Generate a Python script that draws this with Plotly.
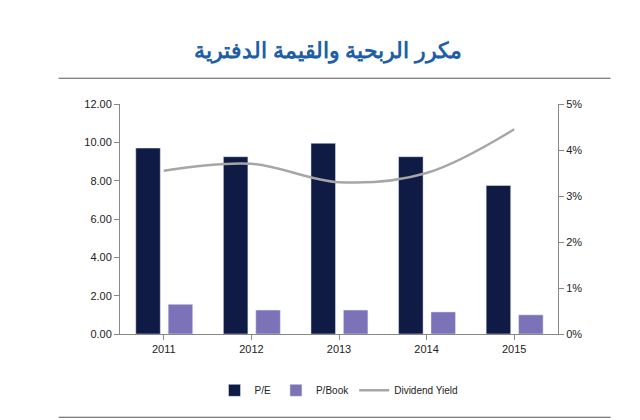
import plotly.graph_objects as go

years = ["2011", "2012", "2013", "2014", "2015"]
pe = [9.7, 9.25, 9.95, 9.25, 7.75]
pbook = [1.55, 1.25, 1.25, 1.15, 1.0]
dy = [3.55, 3.7, 3.3, 3.5, 4.45]
left_ticks = [0, 2, 4, 6, 8, 10, 12]
right_ticks = [0, 1, 2, 3, 4, 5]
right_labels = ["0%", "1%", "2%", "3%", "4%", "5%"]

fig = go.Figure()
fig.add_bar(x=years, y=pe, name="P/E", marker_color="#0f1a45", width=0.28, offset=-0.32)
fig.add_bar(x=years, y=pbook, name="P/Book", marker_color="#7b72b8", width=0.28, offset=0.05)
fig.add_scatter(x=years, y=dy, name="Dividend Yield", yaxis="y2", mode="lines",
                line=dict(color="#a6a6a6", width=2.5, shape="spline"))
fig.update_layout(
    width=640, height=420, plot_bgcolor="white", paper_bgcolor="white",
    margin=dict(l=112, r=90, t=96, b=94),
    font=dict(family="Liberation Sans", size=11, color="#222"),
    title=dict(text="<b>مكرر الربحية والقيمة الدفترية</b>", x=0.5, y=0.9, xanchor="center", yanchor="middle",
               font=dict(family="Noto Sans", size=22, color="#1f5fa8")),
    xaxis=dict(showline=True, linecolor="#888", ticks="outside", ticklen=5, tickcolor="#888"),
    yaxis=dict(range=[0, 12], tickvals=left_ticks, tickformat=".2f", showgrid=False,
               showline=True, linecolor="#888", ticks="outside", tickcolor="#888"),
    yaxis2=dict(range=[0, 5], tickvals=right_ticks, ticktext=right_labels, tickmode="array",
                overlaying="y", side="right",
                showgrid=False, showline=True, linecolor="#888", ticks="outside", tickcolor="#888"),
    legend=dict(orientation="h", x=0.5, xanchor="center", y=-0.245, yanchor="middle", font=dict(size=10)),
    shapes=[dict(type="line", xref="paper", yref="paper", x0=-0.14, x1=1.12, y0=1.112, y1=1.112,
                 line=dict(color="#555", width=1)),
            dict(type="line", xref="paper", yref="paper", x0=-0.14, x1=1.12, y0=-0.362, y1=-0.362,
                 line=dict(color="#555", width=1))],
)
fig.write_html("out.html")
